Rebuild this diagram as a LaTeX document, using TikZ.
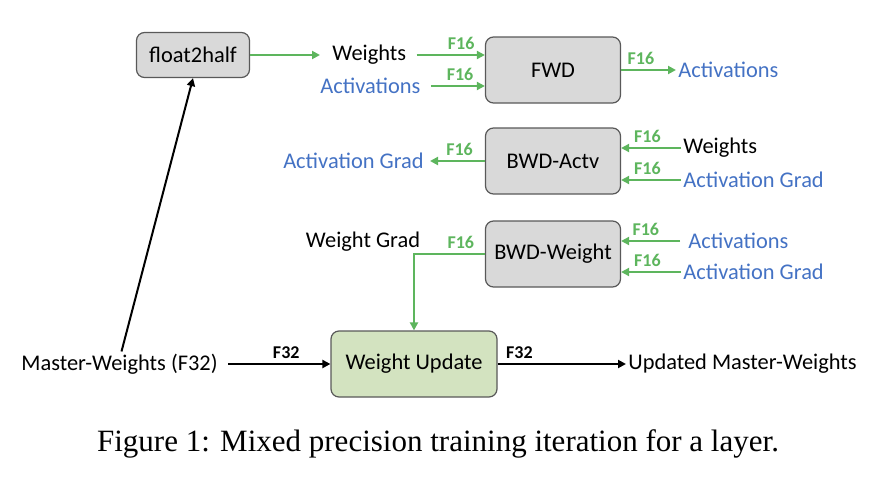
\documentclass[tikz,border=0pt]{standalone}
\usepackage{fontspec}
\setmainfont{Liberation Serif}
\newfontfamily\diafont{Carlito}
\usetikzlibrary{arrows.meta, positioning}
\definecolor{actblue}{HTML}{4472C4}
\definecolor{halfgreen}{HTML}{5DB55D}
\definecolor{boxgray}{HTML}{D9D9D9}
\definecolor{boxgreen}{HTML}{D3E3C0}

\begin{document}
\begin{tikzpicture}[x=0.5pt, y=-0.5pt,
	op/.style={rectangle, draw=black!65, fill=boxgray, rounded corners=4pt, line width=0.6pt,
	           minimum width=67.5pt, minimum height=33pt, font=\diafont\fontsize{11.2}{13}\selectfont},
	txt/.style={inner sep=1pt, font=\diafont\fontsize{11.2}{13}\selectfont},
	blu/.style={txt, text=actblue},
	lbl/.style={inner sep=1pt, font=\diafont\bfseries\fontsize{9}{10}\selectfont, text=halfgreen},
	gar/.style={-{Triangle[length=4pt, width=4pt]}, draw=halfgreen, line width=1pt},
	bar/.style={-{Triangle[length=4pt, width=4pt]}, draw=black, line width=1pt}
	]
\useasboundingbox (0,0) rectangle (895,498);

% Boxes
\node[op, minimum width=56.5pt, minimum height=22.5pt] (f2h) at (193,55) {float2half};
\node[op] (fwd)  at (553,70)  {FWD};
\node[op] (bwda) at (553,161) {BWD-Actv};
\node[op] (bwdw) at (553,254) {BWD-Weight};
\node[op, fill=boxgreen, minimum width=83pt] (wu) at (414,364) {Weight Update};

% Forward pass
\node[txt, anchor=west] (wts1) at (330,55) {Weights};
\node[blu, anchor=west] (act1) at (318,86) {Activations};
\node[blu, anchor=west] (act2) at (676,70) {Activations};
\draw[gar, shorten >=5pt] (f2h.east) -- (wts1.west);
\draw[gar, shorten <=4pt] (wts1.east) -- (wts1 -| fwd.west) node[lbl, above=1pt, pos=0.69] (l1) {F16};
\draw[gar, shorten <=4pt] (act1.east) -- (act1 -| fwd.west) node[lbl, above=1pt, pos=0.6] (l2) {F16};
\draw[gar] (fwd.east) -- (act2.west) node[lbl, above=1pt, pos=0.36] (l3) {F16};

% Backward pass, activations
\node[blu, anchor=east] (ag1) at (426,161) {Activation Grad};
\node[txt, anchor=west] (wts2) at (681,148) {Weights};
\node[blu, anchor=west] (ag2) at (681,180) {Activation Grad};
\draw[gar, shorten >=2pt] (bwda.west) -- (ag1.east) node[lbl, above=1pt, pos=0.43] (l4) {F16};
\draw[gar] (wts2.west) -- (wts2 -| bwda.east) node[lbl, above=1pt, pos=0.56] (l5) {F16};
\draw[gar] (ag2.west) -- (ag2 -| bwda.east) node[lbl, above=1pt, pos=0.56] (l6) {F16};

% Backward pass, weights
\node[txt] (wg) at (363,242) {Weight Grad};
\node[blu, anchor=west] (act3) at (686,241) {Activations};
\node[blu, anchor=west] (ag3) at (681,272) {Activation Grad};
\draw[gar, shorten <=3pt] (act3.west) -- (act3 -| bwdw.east) node[lbl, above=1pt, pos=0.62] (l7) {F16};
\draw[gar] (ag3.west) -- (ag3 -| bwdw.east) node[lbl, above=1pt, pos=0.56] (l8) {F16};
\draw[gar] (bwdw.west) -| (wu.north) node[lbl, above=1pt, pos=0.17] (l9) {F16};

% Master weights
\node[txt, anchor=east] (mw) at (220,364) {Master-Weights (F32)};
\node[txt, anchor=west] (umw) at (626,364) {Updated Master-Weights};
\draw[bar, shorten <=4pt] (mw.east) -- (wu.west) node[lbl, text=black, above=1pt, pos=0.6] (l10) {F32};
\draw[bar] (wu.east) -- (umw.west) node[lbl, text=black, above=1pt, pos=0.17] (l11) {F32};
\draw[bar] ([xshift=1pt]mw.north) -- (f2h.south);

\node[font=\fontsize{15.5}{18}\selectfont] (cap) at (438,444) {Figure 1: Mixed precision training iteration for a layer.};
\end{tikzpicture}
\end{document}
